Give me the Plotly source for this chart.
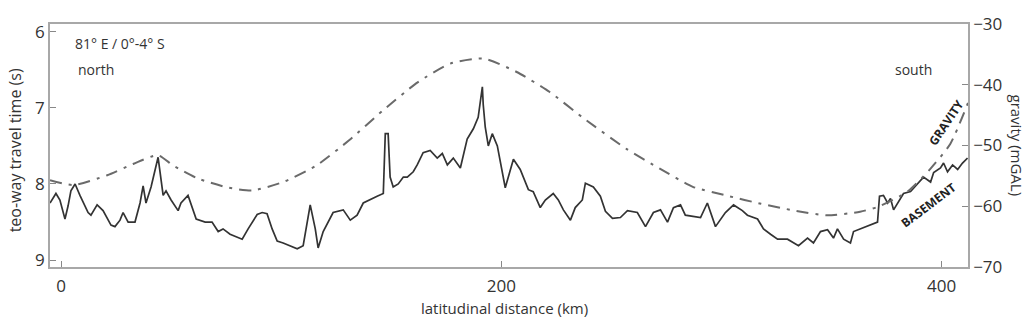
import plotly.graph_objects as go

# Basement (two-way travel time, s) vs latitudinal distance (km)
basement_km = [-5.0, -2.3, -0.5, 1.8, 3.2, 4.5, 6.4, 8.6, 12.3, 13.6, 16.4, 19.1, 22.7, 24.5, 26.8, 28.2,
               30.5, 33.6, 35.9, 37.3, 38.6, 40.9, 44.1, 45.5, 46.4, 47.7, 50.0, 53.2, 54.5, 57.7, 60.0,
               61.4, 65.5, 68.6, 71.4, 73.6, 76.8, 79.1, 82.3, 85.0, 89.1, 91.4, 93.6, 95.9, 98.2, 100.9,
               104.1, 107.3, 110.0, 113.2, 115.5, 116.8, 119.1, 123.6, 128.2, 131.4, 134.5, 137.3, 143.6,
               146.4, 147.3, 148.6, 149.5, 150.9, 153.2, 155.5, 157.3, 160.0, 161.8, 164.5, 167.7, 170.9,
               173.2, 175.5, 178.2, 181.4, 184.5, 187.3, 189.5, 191.4, 191.8, 192.7, 194.1, 195.9, 198.2,
               201.8, 205.5, 208.6, 212.3, 214.5, 217.7, 220.0, 223.6, 225.9, 228.2, 231.4, 233.6, 236.8,
               238.2, 241.8, 245.0, 247.3, 250.5, 254.1, 257.3, 261.8, 265.5, 269.1, 272.3, 275.5, 278.2,
               281.4, 283.6, 290.5, 293.6, 297.3, 301.8, 305.5, 309.5, 311.8, 316.4, 319.1, 322.3, 325.5,
               330.0, 335.0, 339.1, 341.8, 345.0, 348.2, 350.9, 352.7, 355.5, 358.6, 360.0, 363.2, 367.7,
               370.9, 371.8, 373.6, 375.5, 376.8, 378.2, 380.5, 382.7, 385.9, 389.1, 391.8, 395.0, 396.4,
               399.5, 400.9, 402.7, 405.0, 407.3, 409.5, 411.8]
basement_twt = [8.25, 8.125, 8.21, 8.46, 8.29, 8.09, 8.00, 8.15, 8.375, 8.41, 8.275, 8.35, 8.54, 8.56, 8.475,
                8.375, 8.50, 8.50, 8.25, 8.025, 8.25, 8.04, 7.65, 8.00, 8.15, 8.09, 8.21, 8.35, 8.25, 8.15,
                8.35, 8.46, 8.50, 8.50, 8.625, 8.59, 8.66, 8.69, 8.725, 8.59, 8.40, 8.375, 8.39, 8.59, 8.75,
                8.775, 8.81, 8.85, 8.81, 8.275, 8.59, 8.84, 8.625, 8.375, 8.34, 8.475, 8.41, 8.25, 8.16,
                8.125, 7.34, 7.34, 7.91, 8.04, 8.00, 7.91, 7.91, 7.84, 7.75, 7.59, 7.56, 7.66, 7.60, 7.75,
                7.66, 7.79, 7.41, 7.275, 7.125, 6.725, 6.96, 7.25, 7.50, 7.34, 7.50, 8.05, 7.675, 7.81,
                8.075, 8.10, 8.31, 8.21, 8.125, 8.21, 8.34, 8.475, 8.31, 8.21, 7.99, 8.04, 8.16, 8.36, 8.45,
                8.44, 8.35, 8.375, 8.56, 8.375, 8.34, 8.50, 8.31, 8.275, 8.41, 8.44, 8.25, 8.56, 8.375,
                8.275, 8.35, 8.41, 8.46, 8.59, 8.66, 8.725, 8.725, 8.81, 8.71, 8.775, 8.625, 8.60, 8.71,
                8.59, 8.725, 8.775, 8.625, 8.59, 8.54, 8.50, 8.16, 8.15, 8.25, 8.19, 8.34, 8.225, 8.125,
                8.10, 8.00, 7.91, 7.975, 7.85, 7.79, 7.725, 7.84, 7.75, 7.81, 7.725, 7.66]

# Gravity anomaly (mGal) vs latitudinal distance (km)
gravity_km = [-5, 5.5, 21, 33, 44, 51, 62, 75.5, 87, 101, 116, 131, 146, 162, 177, 192, 207, 222, 237,
              257, 272, 287, 303, 318, 333, 348, 363, 371, 384.5, 395, 404, 412]
gravity_mgal = [-55.7, -56.5, -54.9, -53.0, -51.6, -53.3, -55.4, -56.9, -57.4, -56.0, -53.3, -49.1, -44.3,
                -39.6, -36.5, -35.7, -37.9, -41.2, -45.4, -50.6, -53.8, -56.8, -58.3, -59.6, -60.7, -61.5,
                -60.9, -60.1, -57.6, -53.8, -49.7, -43.0]

x_ticks = [0, 200, 400]
y_ticks = [6, 7, 8, 9]
y2_ticks = [-30, -40, -50, -60, -70]

FONT = "Open Sans"
TXT = "#333333"
FRAME = "#a8a8a8"

fig = go.Figure()
fig.add_trace(go.Scatter(x=gravity_km, y=gravity_mgal, yaxis="y2", mode="lines",
                         line=dict(color="#6a6a6a", width=2, dash="12px,7px,3px,7px", shape="spline",
                                   smoothing=0.6),
                         showlegend=False, hoverinfo="skip"))
fig.add_trace(go.Scatter(x=basement_km, y=basement_twt, mode="lines",
                         line=dict(color="#333333", width=1.7),
                         showlegend=False, hoverinfo="skip"))

axis_common = dict(showgrid=False, zeroline=False, showline=True, linecolor=FRAME, linewidth=1.5,
                   ticks="inside", ticklen=6, tickcolor="#888888", tickwidth=1,
                   tickfont=dict(family=FONT, size=17, color=TXT))

fig.update_layout(
    width=1029, height=318,
    margin=dict(l=50, r=61, t=12, b=51),
    paper_bgcolor="white", plot_bgcolor="white",
    font=dict(family=FONT, color=TXT),
    xaxis=dict(range=[-5, 412], tickvals=x_ticks, mirror=True, ticklabelstandoff=3, **axis_common),
    yaxis=dict(range=[9.09, 5.9], tickvals=y_ticks, mirror=True, **axis_common),
    yaxis2=dict(range=[-70, -30], tickvals=y2_ticks, overlaying="y", side="right",
                **axis_common),
)

ann = [
    dict(text="teo-way travel time (s)", x=0, y=0.48, xref="paper", yref="paper", xanchor="center",
         yanchor="middle", xshift=-35, textangle=-90, showarrow=False, font=dict(size=16)),
    dict(text="gravity (mGAL)", x=1, y=0.5, xref="paper", yref="paper", xanchor="center",
         yanchor="middle", xshift=49, textangle=90, showarrow=False, font=dict(size=15)),
    dict(text="latitudinal distance (km)", x=0.4946, y=0, xref="paper", yref="paper", xanchor="center",
         yanchor="middle", yshift=-41, showarrow=False, font=dict(size=15)),
    dict(text="81° E / 0°-4° S", x=0.025, y=0.9216, xref="paper", yref="paper", xanchor="left",
         yanchor="middle", showarrow=False, font=dict(size=14)),
    dict(text="north", x=0.0283, y=0.8118, xref="paper", yref="paper", xanchor="left",
         yanchor="middle", showarrow=False, font=dict(size=14)),
    dict(text="south", x=0.918, y=0.8118, xref="paper", yref="paper", xanchor="left",
         yanchor="middle", showarrow=False, font=dict(size=14)),
    dict(text="<b>GRAVITY</b>", x=0.976, y=0.596, xref="paper", yref="paper", xanchor="center",
         yanchor="middle", textangle=-56, showarrow=False, font=dict(size=12, color="#222222")),
    dict(text="<b>BASEMENT</b>", x=0.956, y=0.255, xref="paper", yref="paper", xanchor="center",
         yanchor="middle", textangle=-37, showarrow=False, font=dict(size=12, color="#222222")),
]
fig.update_layout(annotations=ann)

fig.write_html("out.html")
